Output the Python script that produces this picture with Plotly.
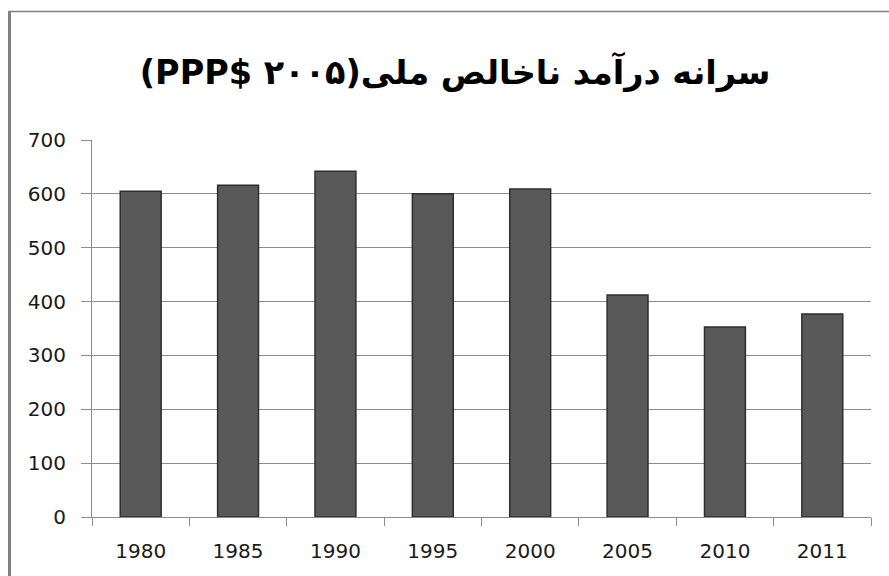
import plotly.graph_objects as go

years = ["1980", "1985", "1990", "1995", "2000", "2005", "2010", "2011"]
values = [605, 616, 642, 600, 609, 412, 353, 377]
y_ticks = [0, 100, 200, 300, 400, 500, 600, 700]
title_text = "سرانه درآمد ناخالص ملی\u200F(\u200F۲۰۰۵ PPP$\u200E)"

fig = go.Figure()
fig.add_trace(go.Bar(
    x=years, y=values, width=0.42,
    marker=dict(color="#595959", line=dict(color="#2e2e2e", width=1.5)),
    hoverinfo="x+y",
))

L, R, T, B = 92, 18, 140, 59
W, H = 889, 576
pw, ph = W - L - R, H - T - B

def px_x(p):
    return (p - L) / pw

def px_y(p):
    return (H - B - p) / ph

tick_font = dict(family="DejaVu Sans", size=20, color="#1a1a1a")

fig.update_layout(
    width=W, height=H,
    margin=dict(l=L, r=R, t=T, b=B),
    paper_bgcolor="white", plot_bgcolor="white",
    showlegend=False,
    title=dict(
        text="\u202B" + title_text + "\u202C",
        x=0.512, xanchor="center", y=1 - 72 / H, yanchor="middle",
        font=dict(family="DejaVu Sans", size=33.5, color="#000000", weight="bold"),
    ),
    xaxis=dict(
        type="category", showline=True, linecolor="#8c8c8c", linewidth=1,
        ticks="outside", tickson="boundaries", ticklen=8, tickcolor="#8c8c8c",
        tickfont=tick_font, ticklabelstandoff=16,
        showgrid=False, zeroline=False,
    ),
    yaxis=dict(
        range=[0, 700], tickvals=y_ticks, showline=True, linecolor="#8c8c8c", linewidth=1,
        ticks="outside", ticklen=10, tickcolor="#8c8c8c",
        showgrid=True, gridcolor="#8c8c8c", gridwidth=1, zeroline=False,
        tickfont=tick_font, ticklabelstandoff=11,
    ),
    shapes=[
        dict(type="line", xref="paper", yref="paper",
             x0=px_x(9.5), x1=px_x(9.5), y0=px_y(11), y1=px_y(576),
             line=dict(color="#808080", width=3)),
        dict(type="line", xref="paper", yref="paper",
             x0=px_x(8), x1=px_x(889), y0=px_y(11.5), y1=px_y(11.5),
             line=dict(color="#808080", width=1.5)),
    ],
)

fig.write_html(
    "out.html",
    config={"displayModeBar": False},
    post_script="document.body.style.margin='0';document.body.style.overflow='hidden';",
)
